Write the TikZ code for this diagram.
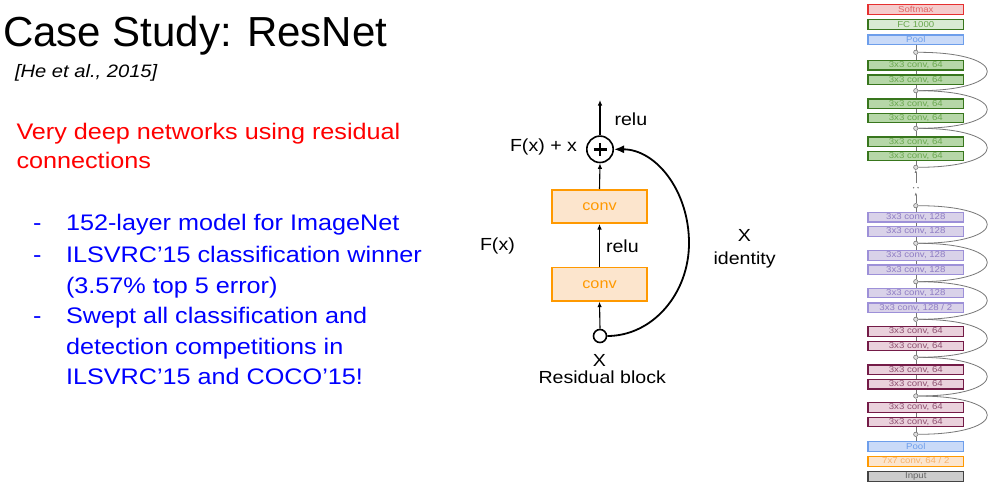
\documentclass[tikz,border=0pt]{standalone}
\usepackage{fontspec}
\setmainfont{Liberation Sans}
\newfontfamily\bodyfont[FakeStretch=1.12]{Liberation Sans}
\usetikzlibrary{arrows.meta}
\definecolor{txtred}{HTML}{FF0000}
\definecolor{txtblue}{HTML}{0000FF}
\definecolor{smD}{HTML}{E63030}\definecolor{smF}{HTML}{F4CCCC}\definecolor{smT}{HTML}{E06666}
\definecolor{grD}{HTML}{38761D}\definecolor{grF}{HTML}{B6D7A8}\definecolor{grT}{HTML}{6AA84F}
\definecolor{fcF}{HTML}{D9EAD3}
\definecolor{plD}{HTML}{6D9EEB}\definecolor{plF}{HTML}{C9DAF8}\definecolor{plT}{HTML}{6D9EEB}
\definecolor{puD}{HTML}{9D90D8}\definecolor{puF}{HTML}{D9D2E9}\definecolor{puT}{HTML}{8E7CC3}
\definecolor{mrD}{HTML}{741B47}\definecolor{mrF}{HTML}{EAD1DC}\definecolor{mrT}{HTML}{8E5070}
\definecolor{orD}{HTML}{FF9900}\definecolor{orF}{HTML}{FCE5CD}\definecolor{orT}{HTML}{F6B26B}
\definecolor{inD}{HTML}{434343}\definecolor{inF}{HTML}{CCCCCC}\definecolor{inT}{HTML}{666666}
\definecolor{lnG}{HTML}{777777}
\tikzset{
  txt/.style={anchor=base west, inner sep=0pt, outer sep=0pt},
  layer/.style={draw, line width=1.2pt, minimum width=95.8pt, minimum height=9.5pt,
    inner sep=0pt, font=\bodyfont\fontsize{8.6}{9}\selectfont},
  smL/.style={layer, draw=smD, fill=smF, text=smT},
  fcL/.style={layer, draw=grD, fill=fcF, text=grT},
  plL/.style={layer, draw=plD, fill=plF, text=plT},
  grL/.style={layer, draw=grD, fill=grF, text=grT},
  puL/.style={layer, draw=puD, fill=puF, text=puT},
  mrL/.style={layer, draw=mrD, fill=mrF, text=mrT},
  orL/.style={layer, draw=orD, fill=orF, text=orT},
  inL/.style={layer, draw=inD, fill=inF, text=inT},
  jn/.style={circle, draw=lnG, fill=inF!60, line width=0.6pt, minimum size=4.4pt, inner sep=0pt},
  vl/.style={draw=lnG, line width=0.6pt},
  skipc/.style={draw=lnG, line width=0.8pt},
  gaparrow/.style={vl, -{Latex[length=3pt,width=2.4pt]}},
  convbox/.style={draw=orD, fill=orF, text=orD, line width=1.6pt, minimum width=95.4pt,
    minimum height=33.4pt, inner sep=0pt, font=\bodyfont\fontsize{14.5}{16}\selectfont},
  flow/.style={line width=1.1pt, -{Latex[length=5.5pt,width=4.5pt]}},
  lbl/.style={txt, font=\bodyfont\fontsize{17.5}{20}\selectfont},
}
\begin{document}
\begin{tikzpicture}[x=1pt,y=-1pt]
\useasboundingbox[fill=white] (0,0) rectangle (988,487);

% ---------- left text ----------
\node[txt, font=\fontsize{42}{50}\selectfont] (title) at (3,47) {Case Study: ResNet};
\node[txt, font=\bodyfont\itshape\fontsize{18}{22}\selectfont] (cite) at (15,77.3) {[He et al., 2015]};
\node[txt, text=txtred, font=\bodyfont\fontsize{22.5}{26}\selectfont] (red1) at (16.5,139.4) {Very deep networks using residual};
\node[txt, text=txtred, font=\bodyfont\fontsize{22.5}{26}\selectfont] (red2) at (16.5,168) {connections};
\tikzset{bl/.style={txt, text=txtblue, font=\bodyfont\fontsize{22.5}{26}\selectfont}}
\node[bl] (d1) at (33,230.7) {-};
\node[bl] (b1) at (66,230.7) {152-layer model for ImageNet};
\node[bl] (d2) at (33,262.7) {-};
\node[bl] (b2) at (66,262.7) {ILSVRC’15 classification winner};
\node[bl] (b2b) at (66,293.3) {(3.57\% top 5 error)};
\node[bl] (d3) at (33,323.6) {-};
\node[bl] (b3) at (66,323.6) {Swept all classification and};
\node[bl] (b3b) at (66,354.3) {detection competitions in};
\node[bl] (b3c) at (66,384.3) {ILSVRC’15 and COCO’15!};

% ---------- residual block ----------
\node[circle, draw, line width=1.6pt, minimum size=26.4pt, inner sep=0pt] (pc) at (600,149.3) {};
\draw[line width=2.6pt] ([xshift=-6.5pt]pc.center) -- ([xshift=6.5pt]pc.center);
\draw[line width=2.6pt] ([yshift=-6.5pt]pc.center) -- ([yshift=6.5pt]pc.center);
\node[convbox] (uc) at (599.5,206.5) {conv};
\node[convbox] (lc) at (599.5,284.2) {conv};
\node[circle, draw, line width=1.6pt, minimum size=13pt, inner sep=0pt] (sc) at (600,336) {};
\coordinate (topout) at (600,100);
\coordinate (bend) at (689,243);
\draw[flow] (pc.north) -- (topout);
\draw[flow] (uc.north) -- (pc.south);
\draw[flow] (lc.north) -- (uc.south);
\draw[flow] (sc.north) -- (lc.south);
\draw[line width=1.8pt, -{Latex[length=10pt,width=8pt]}]
  (sc.east) .. controls +(45,0) and +(0,51) .. (bend)
            .. controls +(0,-52) and +(42,0) .. (pc.east);
\node[lbl] (relu1) at (614.5,125) {relu};
\node[lbl] (fxx) at (510,151) {F(x) + x};
\node[lbl] (relu2) at (606,252.3) {relu};
\node[lbl] (fx) at (480,250.7) {F(x)};
\node[lbl, anchor=base] (xr) at (744.3,241.7) {X};
\node[lbl] (ident) at (713.5,264.5) {identity};
\node[lbl, anchor=base] (xb) at (599.5,366) {X};
\node[lbl] (rb) at (538.5,383.3) {Residual block};

% ---------- ResNet column ----------
\node[smL] (L1) at (915.8,9.5) {Softmax};
\node[fcL] (L2) at (915.8,24.5) {FC 1000};
\node[plL] (L3) at (915.8,39.7) {Pool};
\node[jn] (j1) at (915.8,52.3) {};
\node[grL] (L4) at (915.8,65.3) {3x3 conv, 64};
\node[grL] (L5) at (915.8,79.7) {3x3 conv, 64};
\node[jn] (j2) at (915.8,90.7) {};
\node[grL] (L6) at (915.8,103.7) {3x3 conv, 64};
\node[grL] (L7) at (915.8,118) {3x3 conv, 64};
\node[jn] (j3) at (915.8,128.3) {};
\node[grL] (L8) at (915.8,141.7) {3x3 conv, 64};
\node[grL] (L9) at (915.8,155.9) {3x3 conv, 64};
\node[jn] (j4) at (915.8,167.3) {};
\node[jn] (j5) at (915.8,205.7) {};
\node[puL] (L10) at (915.8,217.2) {3x3 conv, 128};
\node[puL] (L11) at (915.8,231.4) {3x3 conv, 128};
\node[jn] (j6) at (915.8,243.3) {};
\node[puL] (L12) at (915.8,255.4) {3x3 conv, 128};
\node[puL] (L13) at (915.8,269.7) {3x3 conv, 128};
\node[jn] (j7) at (915.8,281.7) {};
\node[puL] (L14) at (915.8,293) {3x3 conv, 128};
\node[puL] (L15) at (915.8,307.8) {3x3 conv, 128 / 2};
\node[jn] (j8) at (915.8,319.3) {};
\node[mrL] (L16) at (915.8,331.4) {3x3 conv, 64};
\node[mrL] (L17) at (915.8,345.9) {3x3 conv, 64};
\node[jn] (j9) at (915.8,357.3) {};
\node[mrL] (L18) at (915.8,369.7) {3x3 conv, 64};
\node[mrL] (L19) at (915.8,384.2) {3x3 conv, 64};
\node[jn] (j10) at (915.8,396) {};
\node[mrL] (L20) at (915.8,407.5) {3x3 conv, 64};
\node[mrL] (L21) at (915.8,422) {3x3 conv, 64};
\node[jn] (j11) at (915.8,434.3) {};
\node[plL] (L22) at (915.8,446.4) {Pool};
\node[orL] (L23) at (915.8,461.4) {7x7 conv, 64 / 2};
\node[inL] (L24) at (915.8,476.4) {Input};

% vertical connectors
\draw[vl] (j1.north) -- (L3.south);
\draw[vl] (L4.north) -- (j1.south);
\draw[vl] (L5.north) -- (L4.south);
\draw[vl] (j2.north) -- (L5.south);
\draw[vl] (L6.north) -- (j2.south);
\draw[vl] (L7.north) -- (L6.south);
\draw[vl] (j3.north) -- (L7.south);
\draw[vl] (L8.north) -- (j3.south);
\draw[vl] (L9.north) -- (L8.south);
\draw[vl] (j4.north) -- (L9.south);
\draw[vl] (L10.north) -- (j5.south);
\draw[vl] (L11.north) -- (L10.south);
\draw[vl] (j6.north) -- (L11.south);
\draw[vl] (L12.north) -- (j6.south);
\draw[vl] (L13.north) -- (L12.south);
\draw[vl] (j7.north) -- (L13.south);
\draw[vl] (L14.north) -- (j7.south);
\draw[vl] (L15.north) -- (L14.south);
\draw[vl] (j8.north) -- (L15.south);
\draw[vl] (L16.north) -- (j8.south);
\draw[vl] (L17.north) -- (L16.south);
\draw[vl] (j9.north) -- (L17.south);
\draw[vl] (L18.north) -- (j9.south);
\draw[vl] (L19.north) -- (L18.south);
\draw[vl] (j10.north) -- (L19.south);
\draw[vl] (L20.north) -- (j10.south);
\draw[vl] (L21.north) -- (L20.south);
\draw[vl] (j11.north) -- (L21.south);
\draw[vl] (L22.north) -- (j11.south);

% gap with dots
\coordinate (gA) at (915.8,183);
\coordinate (gB) at (915.8,192.3);
\draw[gaparrow] (gA) -- (j4.south);
\draw[gaparrow] (j5.north) -- (gB);
\fill[lnG] (913.6,187.7) circle (0.8pt) (918,187.7) circle (0.8pt);

% skip connections
\foreach \a/\b in {j1/j2, j2/j3, j3/j4, j5/j6, j6/j7, j7/j8, j8/j9, j9/j10, j10/j11}{
  \draw[skipc] (\a.east) .. controls +(92,0) and +(92,0) .. (\b.east);
}
\end{tikzpicture}
\end{document}
